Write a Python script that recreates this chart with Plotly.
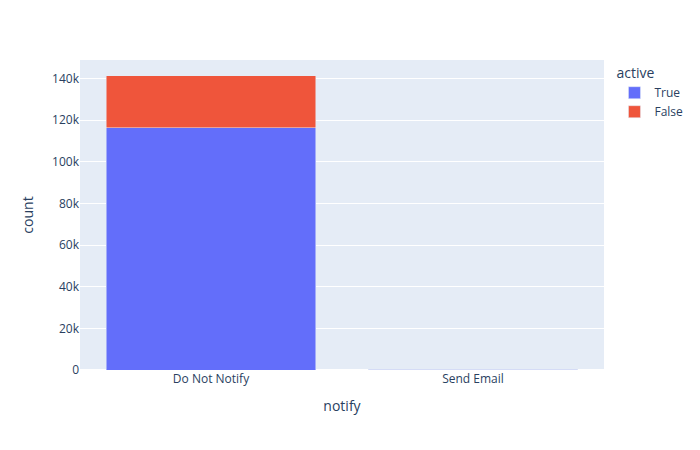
import plotly.graph_objects as go

categories = ["Do Not Notify", "Send Email"]
true_counts = [116500, 300]
false_counts = [25000, 40]

fig = go.Figure()
fig.add_trace(go.Bar(x=categories, y=true_counts, name="True", marker_color="#636efa",
                     legendgroup="True"))
fig.add_trace(go.Bar(x=categories, y=false_counts, name="False", marker_color="#EF553B",
                     legendgroup="False"))
fig.update_layout(
    barmode="stack",
    width=700, height=450,
    template="plotly",
    margin=dict(t=60),
    xaxis_title="notify",
    yaxis_title="count",
    legend=dict(title_text="active", tracegroupgap=0),
)
fig.write_html("out.html")
